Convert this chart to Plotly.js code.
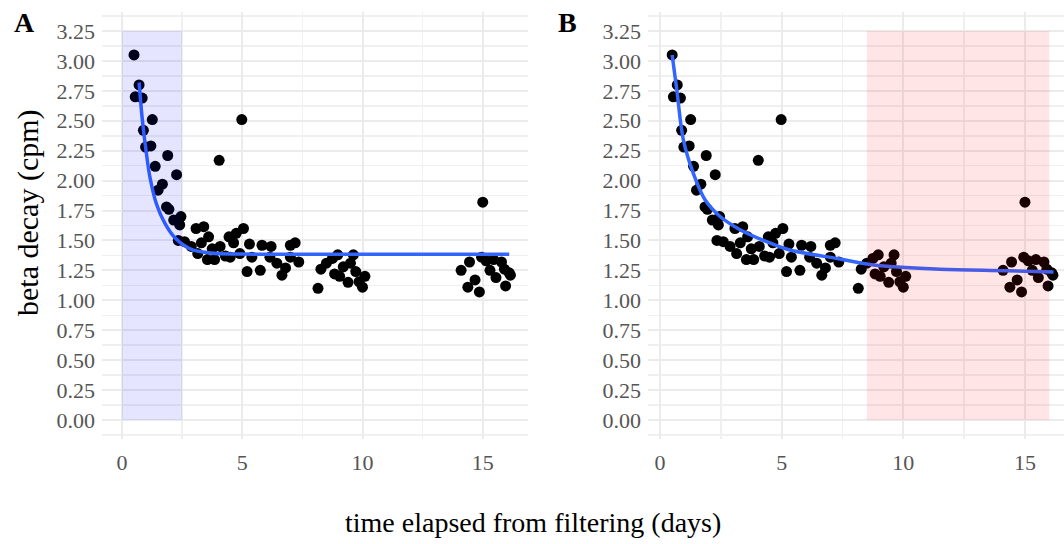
<!DOCTYPE html>
<html>
<head>
<meta charset="utf-8">
<script src="https://cdn.plot.ly/plotly-3.0.1.min.js"></script>
<style>html,body{margin:0;padding:0;background:#fff;}#chart{width:1064px;height:544px;}</style>
</head>
<body>
<div id="chart"></div>
<script>
// observed beta decay data (days, cpm)
const days = [0.5,0.71,0.55,0.84,1.26,0.89,0.98,1.2,1.9,1.38,2.27,1.68,1.5,1.85,1.95,2.15,2.45,2.4,2.34,2.6,
  2.88,3.08,3.4,3.15,3.3,3.55,3.6,3.85,3.75,4.08,4.04,4.3,4.5,4.45,4.64,4.75,5.05,4.9,4.98,5.2,5.3,5.4,5.75,5.82,6.2,6.15,6.44,6.65,6.8,7.0,7.2,7.35,7.0,
  8.15,8.27,8.5,8.75,8.84,8.97,9.05,9.2,9.4,9.5,9.62,9.72,9.86,10.0,10.1,
  14.1,14.38,14.45,14.68,14.86,15.0,14.95,15.14,15.3,15.45,15.55,15.78,15.95,16.1,15.9,16.15];
const cpm = [3.05,2.80,2.70,2.69,2.51,2.42,2.28,2.29,2.21,2.12,2.05,1.97,1.92,1.78,1.76,1.67,1.70,1.63,1.50,1.49,
  1.45,1.60,1.615,1.39,1.48,1.34,1.53,1.34,1.43,1.45,2.17,1.37,1.36,1.53,1.48,1.56,1.60,1.39,2.51,1.24,1.47,1.36,1.25,1.46,1.45,1.36,1.31,1.21,1.27,1.46,1.48,1.32,1.36,
  1.10,1.26,1.31,1.35,1.22,1.38,1.20,1.28,1.15,1.31,1.38,1.24,1.155,1.11,1.20,
  1.25,1.11,1.32,1.17,1.07,1.82,1.36,1.33,1.25,1.34,1.19,1.32,1.12,1.23,1.26,1.21];
// fitted curves
const fitAx = [0.71,0.85,1.0,1.17,1.44,1.79,2.21,2.83,3.67,5,8,12,16.1];
const fitAy = [2.82,2.50,2.25,2.02,1.80,1.64,1.52,1.43,1.395,1.386,1.385,1.385,1.385];
const fitBx = [0.5,0.69,0.96,1.37,1.85,2.47,3.29,4.38,5.34,7.4,8.77,11.5,14.25,16.17];
const fitBy = [3.05,2.76,2.34,2.06,1.84,1.70,1.59,1.49,1.42,1.345,1.295,1.26,1.247,1.236];
// highlighted windows
const windowA = [0, 2.5];
const windowB = [8.5, 16];
const windowTop = 3.25;
// tick labels
const yTickVals = [0,0.25,0.5,0.75,1,1.25,1.5,1.75,2,2.25,2.5,2.75,3,3.25];
const yTickText = ["0.00","0.25","0.50","0.75","1.00","1.25","1.50","1.75","2.00","2.25","2.50","2.75","3.00","3.25"];
const xTickVals = [0,5,10,15];
const xTickText = ["0","5","10","15"];

const FONT = "Liberation Serif, Times New Roman, serif";
const yDom = [1-439.4/544, 1-11.6/544];

const traces = [
  {x: days, y: cpm, xaxis:'x', yaxis:'y', mode:'markers', type:'scatter', marker:{color:'#000', size:11}, hoverinfo:'skip'},
  {x: fitAx, y: fitAy, xaxis:'x', yaxis:'y', mode:'lines', type:'scatter', line:{color:'#3366FF', width:3.5, shape:'spline', smoothing:1}, hoverinfo:'skip'},
  {x: days, y: cpm, xaxis:'x2', yaxis:'y2', mode:'markers', type:'scatter', marker:{color:'#000', size:11}, hoverinfo:'skip'},
  {x: fitBx, y: fitBy, xaxis:'x2', yaxis:'y2', mode:'lines', type:'scatter', line:{color:'#3366FF', width:3.5, shape:'spline', smoothing:1}, hoverinfo:'skip'}
];

function xaxis(domain, range){
  return {domain: domain, range: range, tickmode:'array', tickvals:xTickVals, ticktext:xTickText,
    showgrid:true, gridcolor:'#ebebeb', gridwidth:2, zeroline:false, showline:false, ticks:'',
    tickfont:{family:FONT, size:22, color:'#555'}, ticklabelstandoff:8,
    minor:{tickmode:'array', tickvals:[2.5,7.5,12.5], showgrid:true, gridcolor:'#f0f0f0', gridwidth:1.5}};
}
function yaxis(anchor){
  return {domain: yDom, range:[-0.1625, 3.4125], anchor: anchor, tickmode:'array', tickvals:yTickVals, ticktext:yTickText,
    showgrid:true, gridcolor:'#ebebeb', gridwidth:2, zeroline:false, showline:false, ticks:'',
    tickfont:{family:FONT, size:22, color:'#555'}, ticklabelstandoff:6,
    minor:{tickmode:'array', tickvals:[-0.125,0.125,0.375,0.625,0.875,1.125,1.375,1.625,1.875,2.125,2.375,2.625,2.875,3.125,3.375], showgrid:true, gridcolor:'#f0f0f0', gridwidth:1.5}};
}

const layout = {
  width:1064, height:544, margin:{l:0,r:0,t:0,b:0},
  paper_bgcolor:'#fff', plot_bgcolor:'#fff', showlegend:false,
  xaxis: Object.assign(xaxis([102/1064, 528/1064], [(102-122)/24.05, (528-122)/24.05]), {anchor:'y'}),
  yaxis: yaxis('x'),
  xaxis2: Object.assign(xaxis([648/1064, 1], [(648-660)/24.33, (1064-660)/24.33]), {anchor:'y2'}),
  yaxis2: yaxis('x2'),
  shapes:[
    {type:'rect', xref:'x', yref:'y', x0:windowA[0], x1:windowA[1], y0:0, y1:windowTop, fillcolor:'rgba(0,0,255,0.1)', line:{width:0}, layer:'above'},
    {type:'rect', xref:'x2', yref:'y2', x0:windowB[0], x1:windowB[1], y0:0, y1:windowTop, fillcolor:'rgba(255,0,0,0.1)', line:{width:0}, layer:'above'}
  ],
  annotations:[
    {text:'<b>A</b>', xref:'paper', yref:'paper', x:24/1064, y:1-23/544, xanchor:'center', yanchor:'middle', showarrow:false, font:{family:FONT, size:28, color:'#000'}},
    {text:'<b>B</b>', xref:'paper', yref:'paper', x:567/1064, y:1-23/544, xanchor:'center', yanchor:'middle', showarrow:false, font:{family:FONT, size:28, color:'#000'}},
    {text:'beta decay (cpm)', xref:'paper', yref:'paper', x:28/1064, y:1-213/544, xanchor:'center', yanchor:'middle', textangle:-90, showarrow:false, font:{family:FONT, size:30, color:'#000'}},
    {text:'time elapsed from filtering (days)', xref:'paper', yref:'paper', x:533/1064, y:1-522/544, xanchor:'center', yanchor:'middle', showarrow:false, font:{family:FONT, size:28, color:'#000'}}
  ]
};

Plotly.newPlot('chart', traces, layout, {staticPlot:true, displayModeBar:false});
</script>
</body>
</html>
